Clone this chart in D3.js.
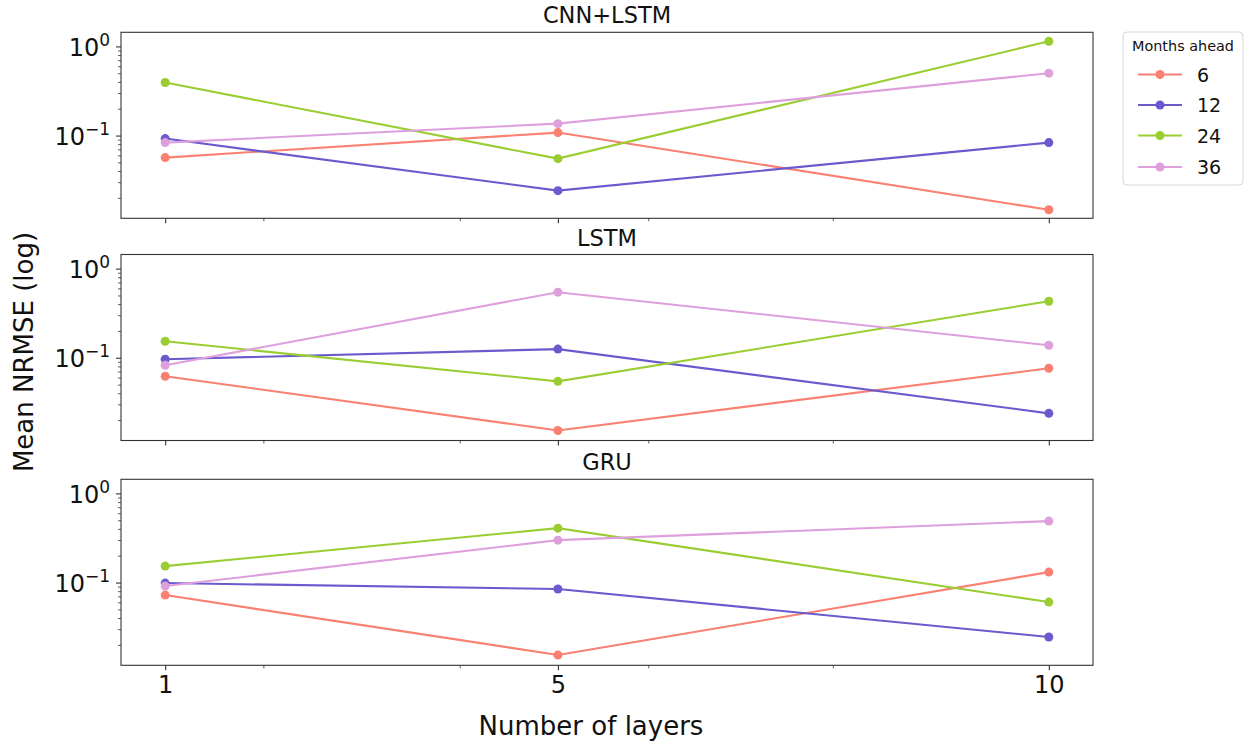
<!DOCTYPE html>
<html>
<head>
<meta charset="utf-8">
<script src="https://cdn.jsdelivr.net/npm/d3@7"></script>
<style>
  html, body { margin: 0; padding: 0; background: #fff; }
  svg { display: block; font-family: "DejaVu Sans", sans-serif; }
</style>
</head>
<body>
<svg id="chart" width="1249" height="746"></svg>
<script>
// ---- data ----
const layers = [1, 5, 10];
const panelTitles = ["CNN+LSTM", "LSTM", "GRU"];
const seriesNames = ["6", "12", "24", "36"];
const seriesColors = ["#fa8072", "#6a5acd", "#9acd32", "#dda0dd"];

// values per panel, per series (6, 12, 24, 36 months ahead), at layers 1, 5, 10
const cnnLstm6  = [0.0566, 0.108, 0.0147];
const cnnLstm12 = [0.0925, 0.0241, 0.0834];
const cnnLstm24 = [0.394, 0.0551, 1.14];
const cnnLstm36 = [0.0834, 0.136, 0.501];

const lstm6  = [0.062, 0.0153, 0.0762];
const lstm12 = [0.0962, 0.125, 0.0238];
const lstm24 = [0.153, 0.0544, 0.431];
const lstm36 = [0.0823, 0.544, 0.138];

const gru6  = [0.0724, 0.0154, 0.131];
const gru12 = [0.0987, 0.0846, 0.0245];
const gru24 = [0.153, 0.408, 0.0604];
const gru36 = [0.0914, 0.299, 0.489];

const panelData = [
  [cnnLstm6, cnnLstm12, cnnLstm24, cnnLstm36],
  [lstm6, lstm12, lstm24, lstm36],
  [gru6, gru12, gru24, gru36]
];

const xMajorTicks = [1, 5, 10];
const xMinorTicks = [2, 4, 5.92, 7.8];
const yMajorTicks = [0.1, 1];
const yMinorTicks = [0.02,0.03,0.04,0.05,0.06,0.07,0.08,0.09,0.2,0.3,0.4,0.5,0.6,0.7,0.8,0.9];
const yTickExp = {0.1: "\u22121", 1: "0"};

// ---- layout ----
const svg = d3.select("#chart");
const left = 121, right = 1093;
const panelTops = [32.3, 254.5, 479.3];
const panelH = 186;

const x = d3.scaleLinear().domain([0.55, 10.45]).range([left, right]);

const axisColor = "#333";

panelTops.forEach((top, pi) => {
  const y = d3.scaleLog().domain([0.0118, 1.44]).range([top + panelH, top]);
  const g = svg.append("g");

  // series
  panelData[pi].forEach((vals, si) => {
    const pts = layers.map((l, i) => [l, vals[i]]);
    const line = d3.line().x(d => x(d[0])).y(d => y(d[1]));
    g.append("path")
      .attr("d", line(pts))
      .attr("fill", "none")
      .attr("stroke", seriesColors[si])
      .attr("stroke-width", 2.1);
    g.selectAll(null).data(pts).enter().append("circle")
      .attr("cx", d => x(d[0]))
      .attr("cy", d => y(d[1]))
      .attr("r", 4.5)
      .attr("fill", seriesColors[si]);
  });

  // frame
  g.append("rect")
    .attr("x", left).attr("y", top)
    .attr("width", right - left).attr("height", panelH)
    .attr("fill", "none").attr("stroke", axisColor).attr("stroke-width", 1.1);

  // x ticks
  const bottom = top + panelH;
  const xAxis = d3.axisBottom(x).tickValues(xMajorTicks).tickSize(5).tickPadding(6)
    .tickFormat(pi === 2 ? d3.format("d") : () => "");
  const xg = g.append("g").attr("transform", `translate(0,${bottom})`).call(xAxis);
  xg.select(".domain").remove();
  xg.selectAll(".tick line").attr("stroke", axisColor).attr("stroke-width", 1.1);
  xg.selectAll(".tick text").attr("font-size", 24).attr("fill", "#111")
    .attr("font-family", "DejaVu Sans");
  const xmg = g.append("g").attr("transform", `translate(0,${bottom})`)
    .call(d3.axisBottom(x).tickValues(xMinorTicks).tickSize(3).tickFormat(() => ""));
  xmg.select(".domain").remove();
  xmg.selectAll(".tick line").attr("stroke", axisColor).attr("stroke-width", 0.8);

  // y ticks
  const yg = g.append("g").attr("transform", `translate(${left},0)`)
    .call(d3.axisLeft(y).tickValues(yMajorTicks).tickSize(5).tickFormat(() => ""));
  yg.select(".domain").remove();
  yg.selectAll(".tick line").attr("stroke", axisColor).attr("stroke-width", 1.1);
  yg.selectAll(".tick").each(function(d) {
    const t = d3.select(this).append("text")
      .attr("x", -11).attr("y", 0).attr("dy", 9)
      .attr("text-anchor", "end").attr("fill", "#111")
      .attr("font-family", "DejaVu Sans");
    t.append("tspan").attr("font-size", 24).text("10");
    t.append("tspan").attr("font-size", 17).attr("dy", -10).text(yTickExp[d]);
  });
  const ymg = g.append("g").attr("transform", `translate(${left},0)`)
    .call(d3.axisLeft(y).tickValues(yMinorTicks).tickSize(3).tickFormat(() => ""));
  ymg.select(".domain").remove();
  ymg.selectAll(".tick line").attr("stroke", axisColor).attr("stroke-width", 0.8);

  // title
  g.append("text")
    .attr("x", (left + right) / 2).attr("y", top - 9)
    .attr("text-anchor", "middle").attr("font-size", 22.5).attr("fill", "#111")
    .text(panelTitles[pi]);
});

// axis labels
svg.append("text")
  .attr("x", 591).attr("y", 735)
  .attr("text-anchor", "middle").attr("font-size", 26).attr("fill", "#111")
  .text("Number of layers");
svg.append("text")
  .attr("transform", `translate(33,352) rotate(-90)`)
  .attr("text-anchor", "middle").attr("font-size", 26).attr("fill", "#111")
  .text("Mean NRMSE (log)");

// legend
const lg = svg.append("g");
lg.append("rect")
  .attr("x", 1123).attr("y", 32).attr("width", 120).attr("height", 153)
  .attr("rx", 4).attr("fill", "#fff").attr("stroke", "#d6d6d6").attr("stroke-width", 1);
lg.append("text")
  .attr("x", 1183).attr("y", 51).attr("text-anchor", "middle")
  .attr("font-size", 14.4).attr("fill", "#111").text("Months ahead");
const rowY = [74.5, 105, 135.5, 167];
seriesNames.forEach((name, i) => {
  lg.append("line")
    .attr("x1", 1138).attr("x2", 1182).attr("y1", rowY[i]).attr("y2", rowY[i])
    .attr("stroke", seriesColors[i]).attr("stroke-width", 2.1);
  lg.append("circle").attr("cx", 1160).attr("cy", rowY[i]).attr("r", 4.5)
    .attr("fill", seriesColors[i]);
  lg.append("text").attr("x", 1197).attr("y", rowY[i] + 7)
    .attr("font-size", 19).attr("fill", "#111").text(name);
});
</script>
</body>
</html>
